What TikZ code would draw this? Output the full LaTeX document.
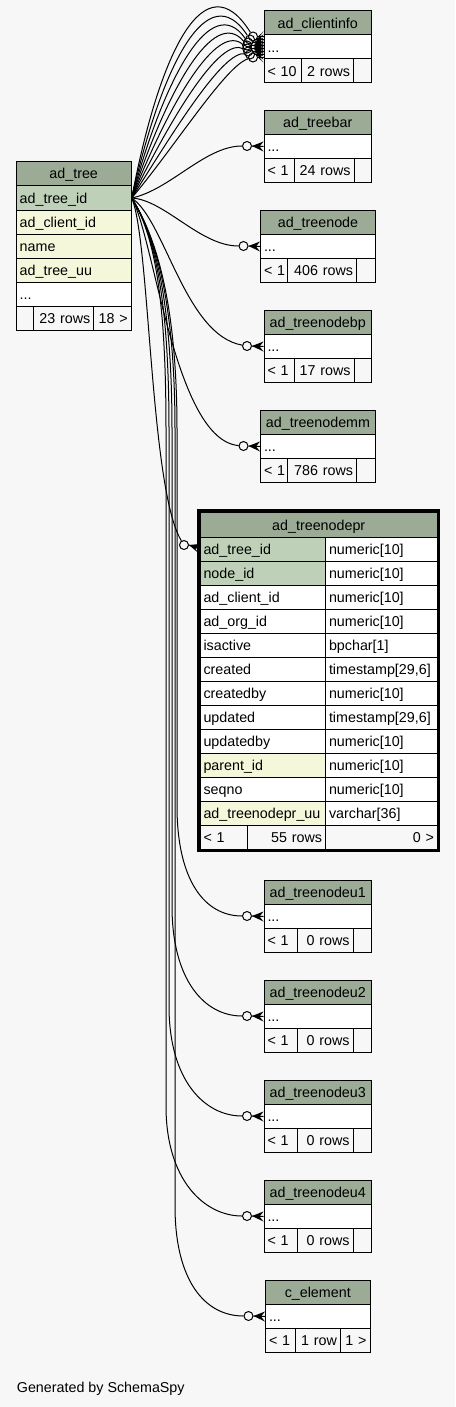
\documentclass[tikz,border=0pt]{standalone}
\usepackage{fontspec}
\setmainfont{Liberation Sans}
\definecolor{bgc}{HTML}{F7F7F7}
\definecolor{hdrc}{HTML}{9BAB96}
\definecolor{pkc}{HTML}{BED1B8}
\definecolor{idxc}{HTML}{F4F7DA}
\hyphenpenalty=10000
\tikzset{
 cell/.style={draw=black, line width=1pt, anchor=north west, inner xsep=3.5pt, inner ysep=0pt, text height=10.3pt, text depth=0pt, font=\fontsize{14.3}{16}\selectfont},
 odotc/.style={circle, draw=black, line width=1pt, minimum size=9pt, inner sep=0pt},
 rel/.style={draw=black, line width=1pt},
 footnote/.style={font=\fontsize{14.3}{16}\selectfont, inner sep=0pt, anchor=base west},
}
\newcommand\tcell[8]{%
 \pgfmathsetmacro\tcw{#4-7}%
 \node[cell, fill=#6, minimum height=#5pt, text width=\tcw pt, align=#7] (#1) at (#2,#3) {\mbox{#8}};}
\newcommand\crowto[2]{%
 \fill (#1.east) -- ([yshift=5pt]#2) -- ([xshift=-4pt]#2) -- ([yshift=-5pt]#2) -- cycle;
 \draw[rel] (#1.east) -- (#2);}
\begin{document}
\begin{tikzpicture}[x=1pt,y=-1pt]
\fill[bgc] (0,0) rectangle (455,1407);
\useasboundingbox (0,0) rectangle (455,1407);

% ad_clientinfo
\tcell{cih}{263.5}{10.5}{107.5}{24}{hdrc}{center}{ad\_clientinfo}
\tcell{cir}{263.5}{34.5}{107.5}{24}{white}{left}{...}
\tcell{cif1}{263.5}{58.5}{37}{24}{bgc}{left}{<~10}
\tcell{cif2}{300.5}{58.5}{52.5}{24}{bgc}{right}{2 rows}
\tcell{cif3}{353}{58.5}{18}{24}{bgc}{right}{}
% ad_treebar
\tcell{tbh}{263.5}{110}{107.5}{24}{hdrc}{center}{ad\_treebar}
\tcell{tbr}{263.5}{134}{107.5}{24}{white}{left}{...}
\tcell{tbf1}{263.5}{158}{30}{24}{bgc}{left}{<~1}
\tcell{tbf2}{293.5}{158}{60}{24}{bgc}{right}{24 rows}
\tcell{tbf3}{353.5}{158}{17.5}{24}{bgc}{right}{}
% ad_treenode
\tcell{tnh}{260}{210}{115}{24}{hdrc}{center}{ad\_treenode}
\tcell{tnr}{260}{234}{115}{24}{white}{left}{...}
\tcell{tnf1}{260}{258}{27}{24}{bgc}{left}{<~1}
\tcell{tnf2}{287}{258}{69}{24}{bgc}{right}{406 rows}
\tcell{tnf3}{356}{258}{19}{24}{bgc}{right}{}
% ad_treenodebp
\tcell{bph}{263.5}{310}{107.5}{24}{hdrc}{center}{ad\_treenodebp}
\tcell{bpr}{263.5}{334}{107.5}{24}{white}{left}{...}
\tcell{bpf1}{263.5}{358}{30}{24}{bgc}{left}{<~1}
\tcell{bpf2}{293.5}{358}{60}{24}{bgc}{right}{17 rows}
\tcell{bpf3}{353.5}{358}{17.5}{24}{bgc}{right}{}
% ad_treenodemm
\tcell{mmh}{260}{410}{115}{24}{hdrc}{center}{ad\_treenodemm}
\tcell{mmr}{260}{434}{115}{24}{white}{left}{...}
\tcell{mmf1}{260}{458}{27}{24}{bgc}{left}{<~1}
\tcell{mmf2}{287}{458}{69}{24}{bgc}{right}{786 rows}
\tcell{mmf3}{356}{458}{19}{24}{bgc}{right}{}

% ad_treenodepr
\tcell{prh}{199.5}{512}{237.5}{25}{hdrc}{center}{ad\_treenodepr}
\tcell{pr1}{199.5}{537}{125.5}{24}{pkc}{left}{ad\_tree\_id}
\tcell{prt1}{325}{537}{112}{24}{white}{left}{numeric[10]}
\tcell{pr2}{199.5}{561}{125.5}{24}{pkc}{left}{node\_id}
\tcell{prt2}{325}{561}{112}{24}{white}{left}{numeric[10]}
\tcell{pr3}{199.5}{585}{125.5}{24}{white}{left}{ad\_client\_id}
\tcell{prt3}{325}{585}{112}{24}{white}{left}{numeric[10]}
\tcell{pr4}{199.5}{609}{125.5}{24}{white}{left}{ad\_org\_id}
\tcell{prt4}{325}{609}{112}{24}{white}{left}{numeric[10]}
\tcell{pr5}{199.5}{633}{125.5}{24}{white}{left}{isactive}
\tcell{prt5}{325}{633}{112}{24}{white}{left}{bpchar[1]}
\tcell{pr6}{199.5}{657}{125.5}{24}{white}{left}{created}
\tcell{prt6}{325}{657}{112}{24}{white}{left}{timestamp[29,6]}
\tcell{pr7}{199.5}{681}{125.5}{24}{white}{left}{createdby}
\tcell{prt7}{325}{681}{112}{24}{white}{left}{numeric[10]}
\tcell{pr8}{199.5}{705}{125.5}{24}{white}{left}{updated}
\tcell{prt8}{325}{705}{112}{24}{white}{left}{timestamp[29,6]}
\tcell{pr9}{199.5}{729}{125.5}{24}{white}{left}{updatedby}
\tcell{prt9}{325}{729}{112}{24}{white}{left}{numeric[10]}
\tcell{pr10}{199.5}{753}{125.5}{24}{idxc}{left}{parent\_id}
\tcell{prt10}{325}{753}{112}{24}{white}{left}{numeric[10]}
\tcell{pr11}{199.5}{777}{125.5}{24}{white}{left}{seqno}
\tcell{prt11}{325}{777}{112}{24}{white}{left}{numeric[10]}
\tcell{pr12}{199.5}{801}{125.5}{24}{idxc}{left}{ad\_treenodepr\_uu}
\tcell{prt12}{325}{801}{112}{24}{white}{left}{varchar[36]}
\tcell{prf1}{199.5}{825}{47.5}{24}{bgc}{left}{<~1}
\tcell{prf2}{247}{825}{78}{24}{bgc}{right}{55 rows}
\tcell{prf3}{325}{825}{112}{24}{bgc}{right}{0 >}
\draw[line width=3pt] (198,510.5) rectangle (438.5,850.5);

% ad_treenodeu1..u4
\foreach \nm/\tp/\ttl in {u1/880/ad\_treenodeu1, u2/980/ad\_treenodeu2, u3/1080/ad\_treenodeu3, u4/1180/ad\_treenodeu4}{
 \tcell{\nm h}{263.5}{\tp}{107.5}{24}{hdrc}{center}{\ttl}
 \tcell{\nm r}{263.5}{\tp+24}{107.5}{24}{white}{left}{...}
 \tcell{\nm f1}{263.5}{\tp+48}{33}{24}{bgc}{left}{<~1}
 \tcell{\nm f2}{296.5}{\tp+48}{56}{24}{bgc}{right}{0 rows}
 \tcell{\nm f3}{352.5}{\tp+48}{18.5}{24}{bgc}{right}{}
}
% c_element
\tcell{ceh}{265}{1280}{104.5}{24}{hdrc}{center}{c\_element}
\tcell{cer}{265}{1304}{104.5}{24}{white}{left}{...}
\tcell{cef1}{265}{1328}{29.5}{24}{bgc}{left}{<~1}
\tcell{cef2}{294.5}{1328}{45.5}{24}{bgc}{right}{1 row}
\tcell{cef3}{340}{1328}{29.5}{24}{bgc}{right}{1 >}

% ad_tree
\tcell{ath}{15.7}{161}{115}{24.5}{hdrc}{center}{ad\_tree}
\tcell{atid}{15.7}{185.5}{115}{24}{pkc}{left}{ad\_tree\_id}
\tcell{atc}{15.7}{209.5}{115}{24}{idxc}{left}{ad\_client\_id}
\tcell{atn}{15.7}{233.5}{115}{24}{idxc}{left}{name}
\tcell{atu}{15.7}{257.5}{115}{24}{idxc}{left}{ad\_tree\_uu}
\tcell{atd}{15.7}{281.5}{115}{24}{white}{left}{...}
\tcell{atf1}{15.7}{305.5}{17.6}{24}{bgc}{left}{}
\tcell{atf2}{33.3}{305.5}{60}{24}{bgc}{right}{23 rows}
\tcell{atf3}{93.3}{305.5}{37.4}{24}{bgc}{right}{18 >}

% relationships to ad_clientinfo
\foreach \i in {0,...,7}{
 \pgfmathsetmacro\cy{36.5+3*\i}
 \pgfmathsetmacro\cx{247+6*((\i-3.5)/3.5)^2}
 \pgfmathsetmacro\ax{160+2*\i}
 \pgfmathsetmacro\ay{50+14*\i}
 \pgfmathsetmacro\bx{205+3*\i}
 \pgfmathsetmacro\by{-40+15*\i}
 \node[odotc] (ci\i) at (\cx,\cy) {};
 \coordinate (cie\i) at (263.5,\cy);
 \draw[rel] (atid.east) .. controls (\ax,\ay) and (\bx,\by) .. (ci\i);
 \crowto{ci\i}{cie\i}
}

% ad_treebar
\node[odotc] (ctb) at (247,146) {};
\draw[rel] (atid.east) .. controls (170,190) and (205,146) .. (ctb);
\crowto{ctb}{tbr.west}
% ad_treenode
\node[odotc] (ctn) at (243.5,246) {};
\draw[rel] (atid.east) .. controls (165,200) and (200,246) .. (ctn);
\crowto{ctn}{tnr.west}
% ad_treenodebp
\node[odotc] (cbp) at (247,346) {};
\draw[rel] (atid.east) .. controls (165,220) and (185,335) .. (cbp);
\crowto{cbp}{bpr.west}
% ad_treenodemm
\node[odotc] (cmm) at (243.5,446) {};
\draw[rel] (atid.east) .. controls (155,240) and (175,440) .. (cmm);
\crowto{cmm}{mmr.west}
% ad_treenodepr
\node[odotc] (cpr) at (184,545) {};
\coordinate (pre) at (199.5,549);
\draw[rel] (atid.east) .. controls (150,240) and (150,490) .. (cpr);
\crowto{cpr}{pre}

% lower tables
\foreach \nm/\yy/\xm/\tx in {u1/916/177/263.5, u2/1016/172/263.5, u3/1116/169/263.5, u4/1216/166/263.5, ce/1316/175/265}{
 \node[odotc] (c\nm) at (\tx-16.5,\yy) {};
 \draw[rel] (atid.east) .. controls (155,235) and (\xm,300) .. (\xm,430) -- (\xm,\yy-110) .. controls (\xm,\yy-35) and (205,\yy) .. (c\nm);
 \crowto{c\nm}{\nm r.west}
}

\node[footnote] (gen) at (16.7,1392.7) {Generated by SchemaSpy};
\end{tikzpicture}
\end{document}
